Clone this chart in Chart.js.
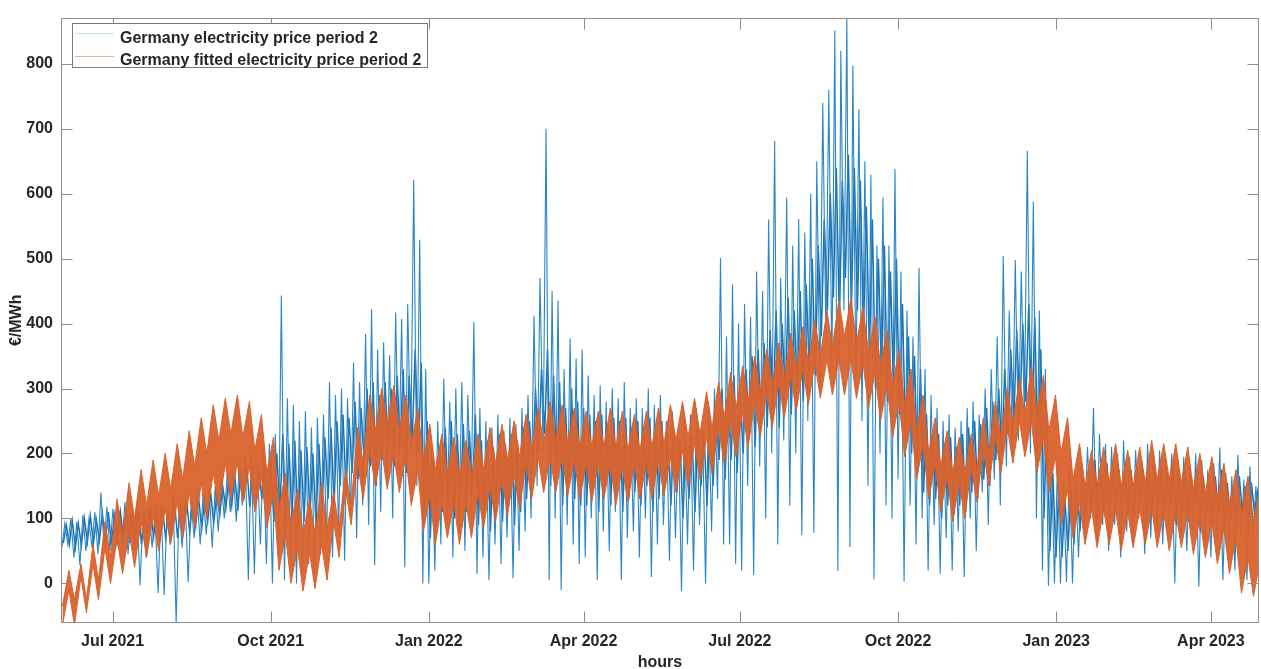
<!DOCTYPE html>
<html>
<head>
<meta charset="utf-8">
<title>Germany electricity price period 2</title>
<script src="https://cdn.jsdelivr.net/npm/chart.js@4.4.1/dist/chart.umd.min.js"></script>
<style>
  html, body { margin: 0; padding: 0; background: #ffffff; overflow: hidden; }
  canvas { display: block; }
</style>
</head>
<body>
<canvas id="chart" width="1261" height="669"></canvas>
<script>
// ---- data -------------------------------------------------------------
const startDate = '2021-06-01';   // first hour of the series
const lastDay = 697;              // days covered by the series

const tickDates  = ['2021-07-01', '2021-10-01', '2022-01-01', '2022-04-01',
                    '2022-07-01', '2022-10-01', '2023-01-01', '2023-04-01'];
const tickLabels = ['Jul 2021', 'Oct 2021', 'Jan 2022', 'Apr 2022',
                    'Jul 2022', 'Oct 2022', 'Jan 2023', 'Apr 2023'];
const yTicks = [0, 100, 200, 300, 400, 500, 600, 700, 800];
const yMin = -61;
const yMax = 871;

// Day-ahead price (EUR/MWh): extreme low and high reading per half week
const priceLow = [
   55,  60,  40,  28,  50,  55,  45,  60,  50,
   55,  60,  45,  50,  -3,  40,  55, -15, -18,
   60, -62,  55,   2,  70,  60,  75,  55,  80,
  100, 110,  95, 120,   5,  15,  60,  30,
    0,  40,   5,  20,   0,  15,  30,  10,  45,
   60,  40,  80,  35, 100,  70, 120,  90,  28,
  110, 150, 100, 170,  25, 200, 150,   0,   0,
   20,  60,  90,  40,  80,  50, 110,  15,
   40,   5,  60,  30,  70,   8,  50,  80,
  100, 150, 200,   5, 100, -10,  90,  60,  30,
   40, 100,   5,  80,  50, 110,   5,  70,
   80,  40, 100,  10,  60,  90,  35,  70, -12,
   60,  20,  90,   0,  80, 130,  60,  60,  30,
   20, 150,  13, 180, 100, 200,  60, 220, 120,
  200,  74, 250,  78, 300, 380, 330,  19, 420,  56,
  300, 250, 150,   6, 200, 120, 100, 160,   3, 120,  60, 100,  20,  90,  15,  70,  20,
   80,  10, 100,  50, 140,  90, 160, 120,
  180, 200, 220, 250, 200, 100,  20,  -4,   0,
    0,   2,   0,  40,  80, 100,  60,  90,
   50,  90,  40,  80,  60, 100,  45,  70,
   80,  60,  90,   0,  70,  50,  80,  -5,  60,
   40,  70,   5,  60,  20,  70,   5,  80,  60
];
const priceHigh = [
   92, 100,  95, 105,  98, 110, 140, 118, 115,
  112, 125, 108, 120, 110, 118, 105, 122, 112,
  137, 120, 130, 125, 135, 140, 145, 150, 160,
  170, 175, 185, 195, 200, 190, 205, 215,
  230, 443, 285, 275, 250, 265, 240, 255, 260,
  310, 290, 300, 285, 340, 310, 384, 422, 360,
  371, 351, 417, 407, 430, 621, 529, 330, 210,
  250, 315, 280, 300, 310, 290, 402, 270,
  250, 240, 260, 235, 255, 245, 270, 290,
  412, 470, 700, 450, 435, 330, 377, 346, 360,
  320, 290, 305, 280, 300, 285, 310, 270,
  285, 270, 300, 275, 290, 250, 265, 240, 255,
  260, 270, 250, 280, 300, 501, 380, 460, 400,
  430, 410, 480, 450, 560, 681, 470, 594, 520,
  561, 540, 600, 650, 740, 760, 851, 820, 871, 797,
  730, 650, 629, 520, 594, 520, 638, 480, 420, 380, 486, 330, 290, 270, 250, 260, 240,
  250, 270, 280, 260, 300, 330, 380, 504,
  420, 498, 480, 666, 588, 420, 330, 200, 180,
  150, 183, 170, 185, 210, 270, 230, 215,
  210, 200, 220, 195, 205, 190, 215, 200,
  205, 190, 200, 185, 195, 180, 200, 190, 175,
  185, 209, 170, 165, 198, 160, 180, 150, 155
];

// Day-ahead price (EUR/MWh): typical low and high of each half week
const priceTypLow = [
   62,  60,  55,  58,  64,  62,  66,  64,  60,
   66,  70,  62,  68,  60,  70,  72,  64,  70,
   78,  70,  82,  80,  88,  84,  95,  92, 105,
  115, 120, 112, 128, 118, 122, 130, 120,
   95, 110,  90, 100,  80,  95, 105,  90, 110,
  130, 120, 150, 140, 170, 160, 190, 180, 150,
  190, 200, 180, 210, 170, 220, 200,  90,  70,
   90, 110, 120, 100, 120, 110, 140,  90,
  100,  80, 110,  95, 120,  90, 110, 130,
  170, 200, 230, 150, 170, 120, 150, 130, 120,
  120, 140, 110, 140, 120, 150, 110, 130,
  140, 120, 150, 110, 130, 150, 120, 140, 100,
  130, 110, 150, 120, 150, 190, 160, 190, 170,
  200, 230, 210, 250, 240, 270, 240, 290, 260,
  300, 280, 330, 320, 380, 420, 440, 400, 470, 420,
  420, 380, 350, 300, 320, 280, 300, 260, 220, 200, 170, 140, 120, 130, 100, 120, 105,
  120, 110, 140, 130, 160, 150, 190, 200,
  230, 250, 260, 280, 250, 200, 100,  50,  40,
   40,  50,  60,  80, 100, 110, 100, 110,
  100, 115,  95, 110, 100, 120,  95, 110,
  115, 100, 120,  90, 110,  95, 115,  80, 100,
   90, 110,  80, 100,  85, 105,  80, 110,  95
];
const priceTypHigh = [
   90,  96,  92, 100, 104,  98, 108, 110, 104,
  110, 116, 104, 112, 106, 114, 110, 116, 108,
  124, 118, 128, 122, 132, 128, 140, 136, 150,
  160, 168, 172, 180, 178, 176, 188, 192,
  200, 230, 215, 220, 205, 210, 200, 215, 225,
  240, 250, 260, 255, 280, 270, 300, 310, 290,
  310, 300, 320, 330, 320, 360, 340, 250, 190,
  210, 240, 250, 230, 245, 235, 260, 220,
  220, 210, 230, 215, 230, 220, 240, 250,
  300, 330, 360, 320, 310, 270, 300, 280, 270,
  260, 250, 260, 245, 255, 250, 255, 240,
  250, 240, 255, 240, 250, 230, 235, 225, 220,
  230, 240, 235, 245, 260, 300, 290, 320, 300,
  330, 350, 360, 370, 390, 420, 400, 440, 420,
  450, 460, 500, 520, 560, 600, 640, 620, 660, 640,
  620, 580, 560, 500, 520, 480, 500, 430, 380, 350, 330, 260, 230, 230, 215, 225, 210,
  230, 240, 250, 245, 270, 280, 300, 330,
  360, 390, 400, 430, 410, 360, 250, 170, 150,
  130, 150, 150, 165, 175, 190, 180, 185,
  180, 175, 185, 175, 180, 175, 180, 175,
  180, 170, 180, 165, 175, 165, 175, 165, 160,
  165, 175, 155, 150, 165, 150, 155, 140, 145
];

// Fitted price (EUR/MWh), per week: weekend bottom, weekend top,
// weekday bottom and weekday crest of the fitted band
const fittedTrough = [
  -65, -65, -45, -25,   0,  15,  25,  40,  50,  60,  70,  85, 100, 115, 130, 125, 110,
   85,  20,   0, -12,  -8,   5,  40,  90, 130, 150, 145, 140, 120,  80,  60,  70,
   60,  70,  85,  95, 105, 115, 130, 140, 140, 135, 130, 125, 130, 120, 125, 130, 130,
  135, 140, 150, 160, 170, 185, 195, 210, 225, 240, 255, 265, 275, 285, 290, 290,
  285, 270, 250, 225, 195, 160, 130, 110,  95, 100, 125, 150, 170, 185, 195, 170, 140,
   90,  70,  60,  55,  60,  50,  55,  60,  55,  50,  55,  45,  40,  30,  15, -15, -20
];
const fittedWeekendTop = [
  -35, -25, -25,   5,  40,  75, 100, 120, 135, 145, 160, 180, 200, 220, 230, 225, 205,
  170, 115,  90,  75,  75,  85,  85, 120, 185, 235, 245, 235, 215, 190, 175, 170,
  165, 165, 175, 185, 190, 195, 205, 215, 220, 215, 210, 210, 210, 210, 205, 205, 210,
  215, 220, 225, 230, 240, 255, 270, 280, 295, 305, 315, 330, 340, 350, 365, 380,
  370, 355, 335, 305, 275, 235, 200, 180, 170, 170, 175, 200, 225, 245, 260, 265, 235,
  200, 160, 150, 150, 155, 150, 150, 155, 160, 160, 155, 145, 140, 130, 120, 110,  95
];
const fittedWeekdayBottom = [
  -10,  10,  30,  55,  70,  80,  95, 105, 115, 125, 140, 155, 170, 185, 185, 180, 165,
  140,  75,  55,  47,  60,  95, 145, 185, 205, 205, 200, 195, 175, 135, 125, 125,
  125, 140, 150, 160, 170, 185, 195, 195, 195, 190, 185, 185, 185, 180, 185, 185, 190,
  195, 205, 215, 225, 240, 250, 265, 280, 295, 310, 320, 330, 340, 345, 345, 345,
  340, 325, 305, 280, 250, 215, 185, 165, 155, 180, 205, 225, 240, 250, 250, 225, 195,
  145, 125, 115, 115, 115, 110, 115, 115, 110, 110, 110, 100,  95,  85,  70,  40,  35
];
const fittedCrest = [
   20,  30,  60,  95, 130, 155, 175, 190, 200, 215, 235, 255, 275, 285, 290, 280, 260,
  225, 170, 145, 130, 155, 140, 175, 240, 290, 300, 305, 290, 270, 245, 230, 225,
  220, 230, 240, 245, 250, 260, 270, 280, 275, 270, 265, 265, 270, 265, 260, 265, 270,
  275, 280, 285, 295, 310, 325, 335, 350, 360, 370, 385, 395, 405, 420, 435, 440,
  425, 410, 390, 360, 330, 290, 255, 235, 225, 230, 255, 280, 300, 315, 335, 320, 290,
  255, 215, 205, 210, 215, 205, 210, 220, 215, 215, 210, 200, 195, 185, 175, 165, 150
];

// ---- build point tables (x in days since startDate) -------------------
const dayOf = d => (Date.parse(d) - Date.parse(startDate)) / 864e5;

const priceExtremes = [];
priceLow.forEach((lo, k) => {
  priceExtremes.push({ x: k * 3.5 + 0.5, y: lo });
  priceExtremes.push({ x: k * 3.5 + 2.2, y: priceHigh[k] });
});
const priceTypical = [];
priceTypLow.forEach((lo, k) => {
  priceTypical.push({ x: k * 3.5 + 1.35, y: lo });
  priceTypical.push({ x: k * 3.5 + 3.05, y: priceTypHigh[k] });
});

const fittedTop = [], fittedBottom = [];
fittedTrough.forEach((lo, w) => {
  fittedTop.push({ x: w * 7 + 0.8, y: fittedWeekendTop[w] });
  fittedTop.push({ x: w * 7 + 4.6, y: fittedCrest[w] });
  fittedBottom.push({ x: w * 7 + 0.8, y: lo });
  fittedBottom.push({ x: w * 7 + 4.6, y: fittedWeekdayBottom[w] });
});

// ---- styling ----------------------------------------------------------
const FONT = "'Liberation Sans', Arial, Helvetica, sans-serif";
const TEXT = '#262626';
const AXIS = '#8c8c8c';
const BLUE = '#1a70b0';
const BLUE_LIGHT = '#2b86c5';
const ORANGE = '#d9602a';
const ORANGE_FILL = 'rgba(218,98,44,0.95)';

// Box around the axes with inward tick marks on all four sides, plus legend
const framePlugin = {
  id: 'frame',
  afterDatasetsDraw(chart) {
    const { ctx, chartArea: a, scales: { x, y } } = chart;
    const L = Math.round(a.left) + 0.5, R = Math.round(a.right) - 0.5;
    const T = Math.round(a.top) + 0.5, B = Math.round(a.bottom) - 0.5;
    const len = 11;
    ctx.save();
    ctx.strokeStyle = AXIS;
    ctx.lineWidth = 1;
    ctx.beginPath();
    ctx.rect(L, T, R - L, B - T);
    x.ticks.forEach(t => {
      const px = Math.round(x.getPixelForValue(t.value)) + 0.5;
      ctx.moveTo(px, B); ctx.lineTo(px, B - len);
      ctx.moveTo(px, T); ctx.lineTo(px, T + len);
    });
    y.ticks.forEach(t => {
      const py = Math.round(y.getPixelForValue(t.value)) + 0.5;
      ctx.moveTo(L, py); ctx.lineTo(L + len, py);
      ctx.moveTo(R, py); ctx.lineTo(R - len, py);
    });
    ctx.stroke();

    // legend
    const bx = 72.5, by = 23.5, bw = 355, bh = 44;
    ctx.fillStyle = '#ffffff';
    ctx.fillRect(bx, by, bw, bh);
    ctx.strokeStyle = '#7a7a7a';
    ctx.strokeRect(bx, by, bw, bh);
    const rows = [33.5, 56.5];
    const bases = [42.5, 64.7];
    chart.data.datasets
      .filter(ds => ds.legendRank !== undefined)
      .sort((p, q) => p.legendRank - q.legendRank)
      .forEach((ds, i) => {
        ctx.strokeStyle = ds.legendSample;
        ctx.beginPath();
        ctx.moveTo(75, rows[i]); ctx.lineTo(114, rows[i]);
        ctx.stroke();
        ctx.fillStyle = TEXT;
        ctx.font = 'bold 16px ' + FONT;
        ctx.textAlign = 'left';
        ctx.textBaseline = 'alphabetic';
        ctx.fillText(ds.label, 120, bases[i]);
      });
    ctx.restore();
  }
};

const lineBase = { pointRadius: 0, tension: 0, clip: 0 };

new Chart(document.getElementById('chart'), {
  type: 'line',
  data: {
    datasets: [
      {
        ...lineBase,
        label: 'Germany fitted electricity price period 2',
        legendRank: 1,
        legendSample: '#ddb69b',
        data: fittedTop,
        borderColor: ORANGE,
        borderWidth: 1,
        backgroundColor: ORANGE_FILL,
        fill: '+1',
        order: 0
      },
      {
        ...lineBase,
        label: 'fitted band bottom',
        data: fittedBottom,
        borderColor: ORANGE,
        borderWidth: 1,
        fill: false,
        order: 0
      },
      {
        ...lineBase,
        label: 'Germany electricity price period 2',
        legendRank: 0,
        legendSample: '#bfe8f2',
        data: priceExtremes,
        borderColor: BLUE_LIGHT,
        borderWidth: 1.1,
        fill: false,
        order: 1
      },
      {
        ...lineBase,
        label: 'typical price range',
        data: priceTypical,
        borderColor: BLUE,
        borderWidth: 1.5,
        fill: false,
        order: 2
      }
    ]
  },
  options: {
    responsive: false,
    animation: false,
    devicePixelRatio: 1,
    parsing: false,
    events: [],
    layout: { padding: { top: 12, right: 2, left: 0, bottom: 0 } },
    plugins: { legend: { display: false }, tooltip: { enabled: false } },
    scales: {
      x: {
        type: 'linear',
        min: 0,
        max: lastDay,
        grid: { display: false, drawTicks: false },
        border: { display: false },
        afterBuildTicks: s => { s.ticks = tickDates.map(d => ({ value: dayOf(d) })); },
        afterFit: s => { s.height = 46; },
        ticks: {
          autoSkip: false, maxRotation: 0, minRotation: 0, padding: 9,
          color: TEXT, font: { family: FONT, size: 16, weight: 'bold' },
          callback: (v, i) => tickLabels[i]
        },
        title: {
          display: true, text: 'hours', color: TEXT,
          font: { family: FONT, size: 16, weight: 'bold' },
          padding: { top: 0, bottom: -3.4 }
        }
      },
      y: {
        type: 'linear',
        min: yMin,
        max: yMax,
        grid: { display: false, drawTicks: false },
        border: { display: false },
        afterBuildTicks: s => { s.ticks = yTicks.map(v => ({ value: v })); },
        afterFit: s => { s.width = 61; },
        ticks: {
          padding: 8, color: TEXT,
          font: { family: FONT, size: 16, weight: 'bold' },
          callback: v => String(v)
        },
        title: {
          display: true, text: '€/MWh', color: TEXT,
          font: { family: FONT, size: 16, weight: 'bold' },
          padding: { top: 7, bottom: 0 }
        }
      }
    }
  },
  plugins: [framePlugin]
});
</script>
</body>
</html>
